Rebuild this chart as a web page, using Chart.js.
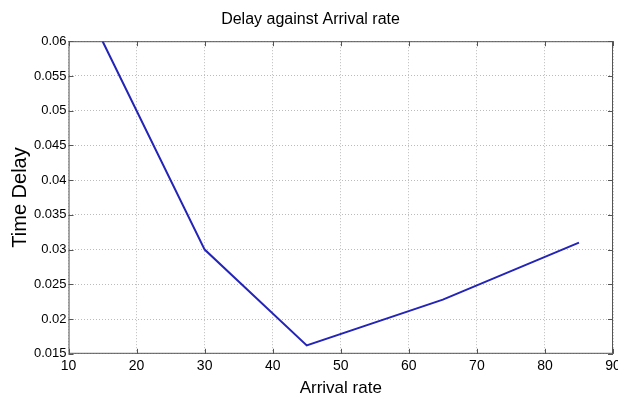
<!DOCTYPE html>
<html lang="en">
<head>
    <meta charset="UTF-8">
    <title>Delay against Arrival rate</title>
    <script src="https://cdn.jsdelivr.net/npm/chart.js@4.3.0/dist/chart.umd.min.js"></script>
    <style>
        body { margin: 0; background: #fff; }
        #wrap { width: 618px; height: 401px; }
    </style>
</head>
<body>
<div id="wrap"><canvas id="chart" width="618" height="401"></canvas></div>
<script>
// values
const arrivalRate = [15, 30, 45, 65, 85];
const timeDelay = [0.06, 0.030, 0.0162, 0.0228, 0.031];
const xTicks = [10, 20, 30, 40, 50, 60, 70, 80, 90];
const yTicks = [0.015, 0.02, 0.025, 0.03, 0.035, 0.04, 0.045, 0.05, 0.055, 0.06];

const FONT = "'Liberation Sans Narrow', 'Liberation Sans', Arial, sans-serif";

// matlab style box with inward ticks
const boxPlugin = {
    id: 'box',
    afterDraw(chart) {
        const ctx = chart.ctx;
        const a = chart.chartArea;
        const xs = chart.scales.x, ys = chart.scales.y;
        ctx.save();
        ctx.strokeStyle = '#555';
        ctx.lineWidth = 1;
        ctx.setLineDash([]);
        ctx.strokeRect(a.left + 0.5, a.top + 0.5, a.right - a.left - 1, a.bottom - a.top - 1);
        ctx.beginPath();
        xTicks.forEach(v => {
            const px = Math.round(xs.getPixelForValue(v)) + 0.5;
            ctx.moveTo(px, a.bottom); ctx.lineTo(px, a.bottom - 5);
            ctx.moveTo(px, a.top); ctx.lineTo(px, a.top + 5);
        });
        yTicks.forEach(v => {
            const py = Math.round(ys.getPixelForValue(v)) + 0.5;
            ctx.moveTo(a.left, py); ctx.lineTo(a.left + 5, py);
            ctx.moveTo(a.right, py); ctx.lineTo(a.right - 5, py);
        });
        ctx.stroke();
        ctx.restore();
    }
};

const ctx = document.getElementById('chart').getContext('2d');
new Chart(ctx, {
    type: 'line',
    data: {
        datasets: [{
            label: 'Time Delay',
            data: arrivalRate.map((x, i) => ({ x: x, y: timeDelay[i] })),
            borderColor: '#2424b8',
            borderWidth: 2,
            pointRadius: 0,
            fill: false,
            tension: 0
        }]
    },
    options: {
        responsive: false,
        animation: false,
        layout: { padding: { left: 8, right: 5, top: 1, bottom: 2 } },
        plugins: {
            legend: { display: false },
            tooltip: { enabled: false },
            title: {
                display: true,
                text: 'Delay against Arrival rate',
                color: '#000',
                font: { family: FONT, size: 16, weight: 'normal' },
                padding: { top: 9, bottom: 12 }
            }
        },
        scales: {
            x: {
                type: 'linear',
                min: 10, max: 90,
                afterBuildTicks: s => { s.ticks = xTicks.map(v => ({ value: v })); },
                afterFit: s => { s.paddingRight = 0; },
                grid: { color: '#bbb', lineWidth: 1, drawTicks: false },
                border: { display: false, dash: [1, 2] },
                ticks: { color: '#000', font: { family: FONT, size: 14 }, padding: 4, maxRotation: 0 },
                title: {
                    display: true, text: 'Arrival rate', color: '#000',
                    font: { family: FONT, size: 17 }, padding: { top: 0, bottom: 0 }
                }
            },
            y: {
                min: 0.015, max: 0.06,
                afterBuildTicks: s => { s.ticks = yTicks.map(v => ({ value: v })); },
                grid: { color: '#bbb', lineWidth: 1, drawTicks: false },
                border: { display: false, dash: [1, 2] },
                ticks: { color: '#000', font: { family: FONT, size: 13 }, padding: 2,
                         callback: v => String(+v.toFixed(3)) },
                title: {
                    display: true, text: 'Time Delay', color: '#000',
                    font: { family: "'Liberation Sans', Arial, sans-serif", size: 20 }, padding: { top: 0, bottom: 0 }
                }
            }
        }
    },
    plugins: [boxPlugin]
});
</script>
</body>
</html>
